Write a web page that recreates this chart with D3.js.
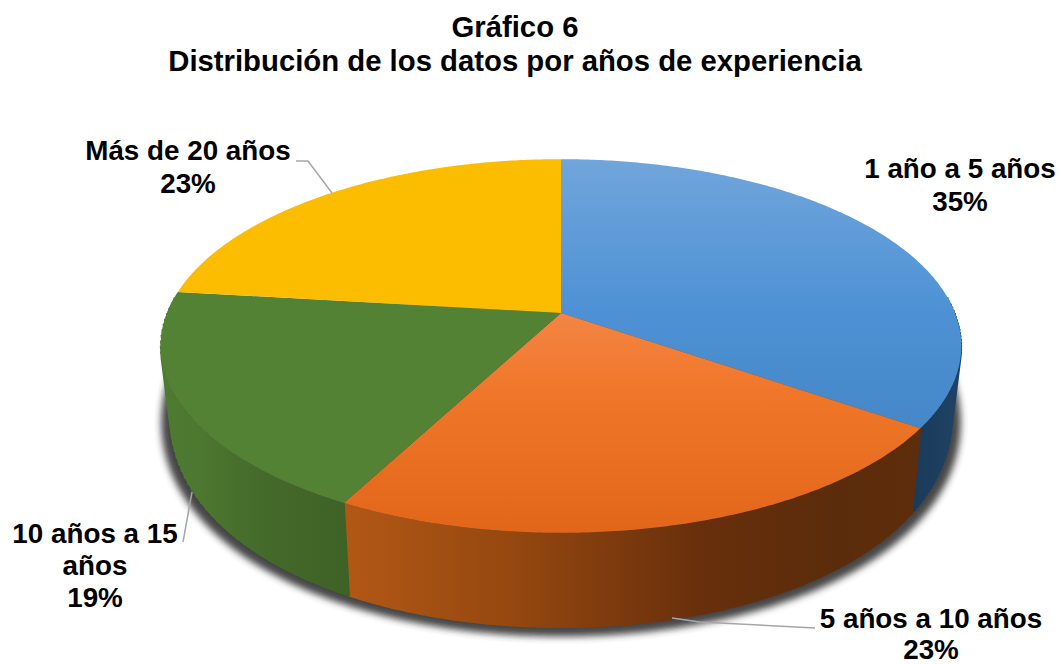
<!DOCTYPE html>
<html><head><meta charset="utf-8">
<style>html,body{margin:0;padding:0;background:#fff}svg{display:block}text{font-family:"Liberation Sans",Arial,sans-serif;font-weight:700;fill:#000;text-anchor:middle}</style>
<script src="https://cdnjs.cloudflare.com/ajax/libs/d3/7.8.5/d3.min.js"></script>
</head><body><svg id="c" width="1060" height="664"></svg>
<script>
const titleLines = ["Gráfico 6", "Distribución de los datos por años de experiencia"];
const categories = ["1 año a 5 años", "5 años a 10 años", "10 años a 15 años", "Más de 20 años"];
const sliceShares = [34.7, 23.0, 19.2, 23.1];
const percentLabels = ["35%", "23%", "19%", "23%"];

const svg = d3.select("#c");
const defs = svg.append("defs");
const cx = 561;
const top3d = {x0: cx, y0: 313, a: 394, b: 181, kx: .1765, ky: .1765};
const bot3d = {x0: cx, y0: 378, a: 384.5, b: 225, kx: .1765, ky: .1};
const project = (p, t) => [
  p.x0 + p.a * Math.sin(t) / (1 - p.kx * -Math.cos(t)),
  p.y0 + p.b * -Math.cos(t) / (1 - p.ky * -Math.cos(t))
];
const line = d3.line();
const arcPts = (p, t0, t1) => {
  const n = Math.max(2, Math.ceil(Math.abs(t1 - t0) / .01));
  return d3.range(n + 1).map(i => project(p, t0 + (t1 - t0) * i / n));
};
const arcs = d3.pie().sort(null).value(d => d)(sliceShares);
const deg = Math.PI / 180;

function grad(id, x1, y1, x2, y2, stops) {
  const g = defs.append("linearGradient").attr("id", id).attr("gradientUnits", "userSpaceOnUse")
    .attr("x1", x1).attr("y1", y1).attr("x2", x2).attr("y2", y2);
  stops.forEach(s => g.append("stop").attr("offset", s[0]).attr("stop-color", s[1]));
}
grad("gTopBlue", 0, 159, 0, 430, [[0, "#71a5db"], [.55, "#4e92d5"], [1, "#4587c8"]]);
grad("gTopOrange", 0, 313, 0, 533, [[0, "#f48544"], [.35, "#f0772a"], [1, "#e2661a"]]);
grad("gSideBlue", 912, 0, 960, 0, [[0, "#1a3a59"], [1, "#1f4264"]]);
grad("gSideOrange", 344, 0, 921, 0, [[0, "#b25816"], [.3, "#94470f"], [.62, "#682f0c"], [.85, "#5b2c0b"], [1, "#5e2d0b"]]);
grad("gSideGreen", 160, 0, 349, 0, [[0, "#4e7a31"], [.2, "#4d7830"], [.55, "#446a2a"], [1, "#3e6226"]]);
const blur = defs.append("filter").attr("id", "shadow").attr("filterUnits", "userSpaceOnUse")
  .attr("x", 100).attr("y", 250).attr("width", 920).attr("height", 414);
blur.append("feGaussianBlur").attr("stdDeviation", 3.5);

const topFill = ["url(#gTopBlue)", "url(#gTopOrange)", "#548235", "#fcbc00"];
const sideFill = ["url(#gSideBlue)", "url(#gSideOrange)", "url(#gSideGreen)", "none"];

// shadow below the pie
const shadowP = Object.assign({}, bot3d, {a: bot3d.a + 9, y0: bot3d.y0 + 3, b: bot3d.b + 5});
svg.append("path").attr("d", line(arcPts(shadowP, 70 * deg, 290 * deg)) + "Z")
  .attr("fill", "#333").attr("opacity", .9).attr("filter", "url(#shadow)");

// side walls: only the part facing the viewer
arcs.forEach((a, i) => {
  const t0 = Math.max(a.startAngle, 85 * deg), t1 = Math.min(a.endAngle, 275 * deg);
  if (t1 <= t0 || sideFill[i] === "none") return;
  const pts = arcPts(top3d, t0, t1).concat(arcPts(bot3d, t1, t0));
  svg.append("path").attr("d", line(pts) + "Z").attr("fill", sideFill[i]);
  // fill tangents so the silhouette stays convex
  svg.append("path").attr("d", d3.range(0, 41).map(j => {
    const t = t0 + (t1 - t0) * j / 40;
    return line([project(top3d, t), project(bot3d, t)]);
  }).join("")).attr("stroke", sideFill[i]).attr("stroke-width", 2).attr("fill", "none");
});

// top face
arcs.forEach((a, i) => {
  const pts = [[top3d.x0, top3d.y0]].concat(arcPts(top3d, a.startAngle, a.endAngle));
  svg.append("path").attr("d", line(pts) + "Z").attr("fill", topFill[i]);
});

// leader lines
const leaders = [
  [[296, 161], [308, 161], [332, 193]],
  [[183, 542], [192, 492]],
  [[815, 628], [700, 622], [672, 618]]
];
leaders.forEach(l => svg.append("path").attr("d", line(l)).attr("fill", "none")
  .attr("stroke", "#a6a6a6").attr("stroke-width", 1.5));

// text
const fs = 27.8;
const txt = (s, x, y, size) => svg.append("text").attr("x", x).attr("y", y).attr("font-size", size || fs).text(s);
txt(titleLines[0], 515, 37, 29.3);
txt(titleLines[1], 515, 71, 29.3);
txt(categories[0], 960, 178); txt(percentLabels[0], 960, 211);
txt(categories[1], 931, 628); txt(percentLabels[1], 931, 659);
txt("10 años a 15", 95, 543); txt("años", 95, 575); txt(percentLabels[2], 95, 607);
txt(categories[3], 188, 160); txt(percentLabels[3], 188, 193);
</script></body></html>
